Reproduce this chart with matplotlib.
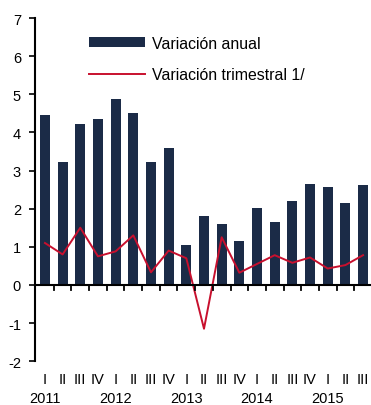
import numpy as np
import matplotlib
matplotlib.use("Agg")
import matplotlib.pyplot as plt
import matplotlib.transforms as mtransforms

plt.rcParams['font.family'] = ['Liberation Sans', 'DejaVu Sans']
plt.rcParams['axes.unicode_minus'] = False

# Trimestres 2011-I a 2015-III
quarters = ['I', 'II', 'III', 'IV'] * 4 + ['I', 'II', 'III']
years = ['2011', '2012', '2013', '2014', '2015']
annual = [4.47, 3.23, 4.21, 4.35, 4.87, 4.52, 3.23, 3.59, 1.05, 1.80,
          1.60, 1.15, 2.01, 1.66, 2.21, 2.66, 2.56, 2.16, 2.61]
quarterly = [1.10, 0.80, 1.50, 0.75, 0.88, 1.30, 0.33, 0.90, 0.70, -1.15,
             1.25, 0.32, 0.55, 0.78, 0.58, 0.72, 0.43, 0.52, 0.78]

bar_color = '#1b2b47'
line_color = '#c8102e'

fig = plt.figure(figsize=(3.71, 4.06), dpi=100)
ax = fig.add_axes([0.094, 0.108, 0.906, 0.845])

x = np.arange(len(annual))
bars = ax.bar(x, annual, width=0.57, color=bar_color, label='Variación anual', zorder=2)
line, = ax.plot(x, quarterly, color=line_color, lw=1.4, label='Variación trimestral 1/', zorder=3)

ax.set_xlim(-0.57, 18.45)
ax.set_ylim(-2, 7)
ax.set_yticks(range(-2, 8))
ax.tick_params(axis='y', direction='out', length=4, width=1.2, labelsize=10.5, pad=6)

# eje x sobre el cero, marcas entre trimestres
for s in ['top', 'right', 'bottom']:
    ax.spines[s].set_visible(False)
ax.spines['left'].set_linewidth(1.5)
ax.axhline(0, color='black', lw=1.5, zorder=4)
ax.set_xticks([])
for t in np.arange(0.5, len(annual) - 1, 1.0):
    ax.plot([t, t], [0, -0.14], color='black', lw=1.3, zorder=4, clip_on=False)

trans = mtransforms.blended_transform_factory(ax.transData, fig.transFigure)
for i, q in enumerate(quarters):
    ax.text(i, 1 - 380 / 406, q, transform=trans, ha='center', va='center', fontsize=10.5)
for k, yr in enumerate(years):
    ax.text(4 * k, 1 - 399 / 406, yr, transform=trans, ha='center', va='center', fontsize=10.5)

ax.legend([bars, line], ['Variación anual', 'Variación trimestral 1/'],
          loc='upper left', bbox_to_anchor=(0.12, 0.99), frameon=False,
          fontsize=11.4, handlelength=3.5, handleheight=0.6,
          labelspacing=1.05, handletextpad=0.45)

fig.savefig('out.png', dpi=100)
